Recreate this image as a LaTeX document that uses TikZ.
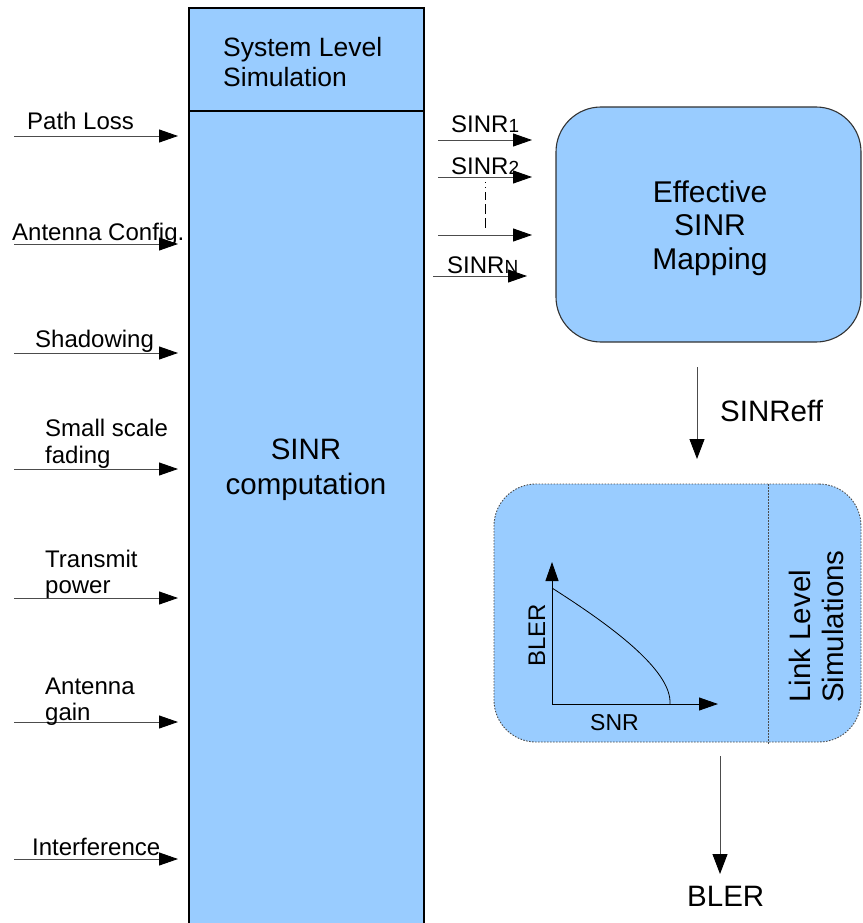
\documentclass[tikz,border=0pt]{standalone}
\usepackage{fontspec}
\setmainfont{Liberation Sans}
\usetikzlibrary{arrows.meta}
\definecolor{boxblue}{HTML}{99CCFF}
\newcommand{\fsz}[1]{\fontsize{#1}{#1}\selectfont}
\newcommand{\fszb}[2]{\fontsize{#1}{#2}\selectfont}

\begin{document}
\begin{tikzpicture}[x=1pt,y=-1pt,
  arr/.style={-{Triangle[length=19pt,width=13pt,color=black]}, line width=0.9pt, draw=black!70},
  darr/.style={-{Triangle[length=20pt,width=15pt,color=black]}, line width=0.9pt, draw=black!70},
  lbl/.style={anchor=base west, inner sep=0pt, font=\fsz{24}},
  big/.style={inner sep=0pt, font=\fsz{29.5}},
  blk/.style={draw=black, line width=1.1pt, fill=boxblue, inner sep=0pt},
]
\useasboundingbox (0,0) rectangle (862,923);

% system level column
\node[blk, minimum width=235pt, minimum height=103pt] (sls) at (306.5,59.5) {};
\node[blk, minimum width=235pt, minimum height=819pt] (comp) at (306.5,520.5) {};
\node[anchor=base west, inner sep=0pt, font=\fsz{26.5}] (slstext1) at (223,57) {System Level};
\node[anchor=base west, inner sep=0pt, font=\fsz{26.5}] (slstext2) at (223,87) {Simulation};
\node[inner sep=0pt, align=center, font=\fszb{29.5}{35}] (comptext) at (306,470) {SINR\\computation};

% inputs on the left
\foreach \name/\y in {pl/136, ac/244, sh/353, sf/469, tp/598, ag/722, in/859}{
  \coordinate (\name-s) at (14,\y);
  \coordinate (\name-e) at (178,\y);
  \draw[arr] (\name-s) -- (\name-e);
}
\node[lbl] (lpl) at (27,130) {Path Loss};
\node[lbl] (lac) at (12,240) {Antenna Config.};
\node[lbl] (lsh) at (35,347) {Shadowing};
\node[lbl] (lsf1) at (45,436) {Small scale};
\node[lbl] (lsf2) at (45,463) {fading};
\node[lbl] (ltp1) at (45,567) {Transmit};
\node[lbl] (ltp2) at (45,593) {power};
\node[lbl] (lag1) at (45,694) {Antenna};
\node[lbl] (lag2) at (45,720) {gain};
\node[lbl] (lin) at (32,855) {Interference};

% per-link SINR values
\coordinate (s1a) at (438,140); \coordinate (s1b) at (532,140);
\coordinate (s2a) at (438,177); \coordinate (s2b) at (532,177);
\coordinate (s3a) at (438,235); \coordinate (s3b) at (532,235);
\coordinate (s4a) at (433,276); \coordinate (s4b) at (527,276);
\foreach \a/\b in {s1a/s1b, s2a/s2b, s3a/s3b, s4a/s4b}{
  \draw[arr] (\a) -- (\b);
}
\node[lbl] (ls1) at (451,132) {SINR{\fsz{19}1}};
\node[lbl] (ls2) at (451,174) {SINR{\fsz{19}2}};
\node[lbl] (ls4) at (447,273) {SINR{\fsz{19}N}};
\coordinate (dota) at (485,182);
\coordinate (dotb) at (485,228);
\draw[line width=0.8pt, dash pattern=on 1pt off 4pt on 1pt off 4pt on 8pt off 4pt on 10pt off 4pt on 12pt off 2pt] (dota) -- (dotb);

% effective SINR mapping
\node[blk, draw=black!80, rounded corners=45pt, minimum width=305pt, minimum height=235pt] (esm) at (708.5,224.5) {};
\node[inner sep=0pt, align=center, font=\fszb{30}{33.5}] (esmtext) at (710,228) {Effective\\SINR\\Mapping};

\coordinate (effa) at (697,367);
\coordinate (effb) at (697,459);
\draw[darr] (effa) -- (effb);
\node[big, anchor=base west] (eff) at (720,421) {SINReff};

% link level simulations
\node[fill=boxblue, draw=black!70, line width=0.9pt, dash pattern=on 1.5pt off 1.5pt,
  rounded corners=42pt, minimum width=367pt, minimum height=258pt, inner sep=0pt] (lls) at (677.5,613) {};
\coordinate (diva) at (768,484);
\coordinate (divb) at (768,745);
\draw[draw=black!70, line width=0.9pt, dash pattern=on 1.5pt off 1.5pt] (diva) -- (divb);
\node[big, anchor=base west, rotate=90] (llst1) at (810,703) {Link Level};
\node[big, anchor=base west, rotate=90] (llst2) at (843,703) {Simulations};

% BLER versus SNR sketch
\coordinate (org) at (552,704);
\coordinate (ytip) at (552,562);
\coordinate (xtip) at (718,704);
\draw[-{Triangle[length=19pt,width=13pt,color=black]}, line width=0.9pt] (org) -- (ytip);
\draw[-{Triangle[length=19pt,width=13pt,color=black]}, line width=0.9pt] (org) -- (xtip);
\coordinate (c0) at (552,588);
\coordinate (c1) at (670,704);
\draw[line width=0.8pt] (c0) .. controls (610,625) and (672,670) .. (c1);
\node[lbl, rotate=90] (yl) at (545,667) {BLER};
\node[lbl, font=\fsz{23}] (xl) at (590,730) {SNR};

% output
\coordinate (outa) at (720,756);
\coordinate (outb) at (720,874);
\draw[darr] (outa) -- (outb);
\node[big, anchor=base west] (bler) at (687,906) {BLER};
\end{tikzpicture}
\end{document}
